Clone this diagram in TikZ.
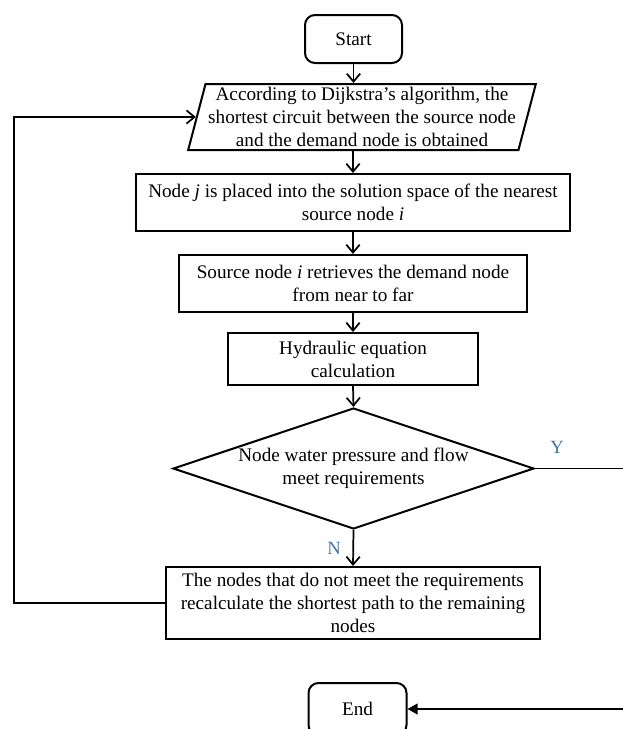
\documentclass[tikz,border=0pt]{standalone}
\usepackage{fontspec}
\setmainfont{Liberation Serif}
\usetikzlibrary{shapes.geometric,arrows.meta}
\definecolor{lblblue}{RGB}{70,115,165}
\begin{document}
\begin{tikzpicture}[x=0.75pt,y=-0.75pt,
  every node/.style={font=\fontsize{14.4}{17.2}\selectfont, align=center},
  boxshape/.style={draw, line width=1.5pt, inner sep=2pt},
  termbox/.style={boxshape, rounded corners=7.5pt},
  parashape/.style={boxshape, trapezium, trapezium left angle=75, trapezium right angle=105, trapezium stretches=true},
  decision/.style={boxshape, diamond, aspect=3, inner sep=0pt},
  flow/.style={line width=1.3pt, -{Straight Barb[length=6pt,width=10pt,line width=1.3pt]}},
  endflow/.style={line width=1.3pt, -{Triangle[length=7.5pt,width=8pt]}},
  yn/.style={font=\fontsize{14}{16}\selectfont, text=lblblue, inner sep=0pt}
]
\useasboundingbox (0,0) rectangle (623,729);
\clip (0,0) rectangle (623,729);

\node[termbox, minimum width=72.75pt, minimum height=36pt] (start) at (353.5,39) {Start};
\node[parashape, minimum width=259.5pt, minimum height=49.5pt] (para) at (362,117)
  {According to Dijkstra's algorithm, the\\shortest circuit between the source node\\and the demand node is obtained};
\node[boxshape, minimum width=325.5pt, minimum height=42.75pt] (b2) at (353,202.5)
  {Node \textit{j} is placed into the solution space of the nearest\\source node \textit{i}};
\node[boxshape, minimum width=261pt, minimum height=42.75pt] (b3) at (353,283.5)
  {Source node \textit{i} retrieves the demand node\\from near to far};
\node[boxshape, minimum width=187.5pt, minimum height=39pt] (b4) at (353,359)
  {Hydraulic equation\\calculation};
\node[decision, minimum width=270.75pt, minimum height=90.75pt] (dia) at (353.5,468.5)
  {Node water pressure and flow\\meet requirements};
\node[boxshape, minimum width=280.5pt, minimum height=54pt] (b5) at (353,603)
  {The nodes that do not meet the requirements\\recalculate the shortest path to the remaining\\nodes};
\node[termbox, minimum width=73.5pt, minimum height=39pt] (end) at (357.5,709) {End};

\node[yn] (ylab) at (557,447) {Y};
\node[yn] (nlab) at (334,548) {N};

\coordinate (lpB) at (14,603);
\coordinate (lpT) at (14,117);
\coordinate (rtT) at (628,468.5);
\coordinate (rtB) at (628,709);

\draw[flow] (start.south) -- (start.south |- para.north);
\draw[flow] (b2.north |- para.south) -- (b2.north);
\draw[flow] (b2.south) -- (b3.north);
\draw[flow] (b3.south) -- (b4.north);
\draw[flow] (b4.south) -- (dia.north);
\draw[flow] (dia.south) -- (b5.north);
\draw[flow] (b5.west) -- (lpB) -- (lpT) -- (para.west);
\draw[endflow] (dia.east) -- (rtT) -- (rtB) -- (end.east);
\end{tikzpicture}
\end{document}
